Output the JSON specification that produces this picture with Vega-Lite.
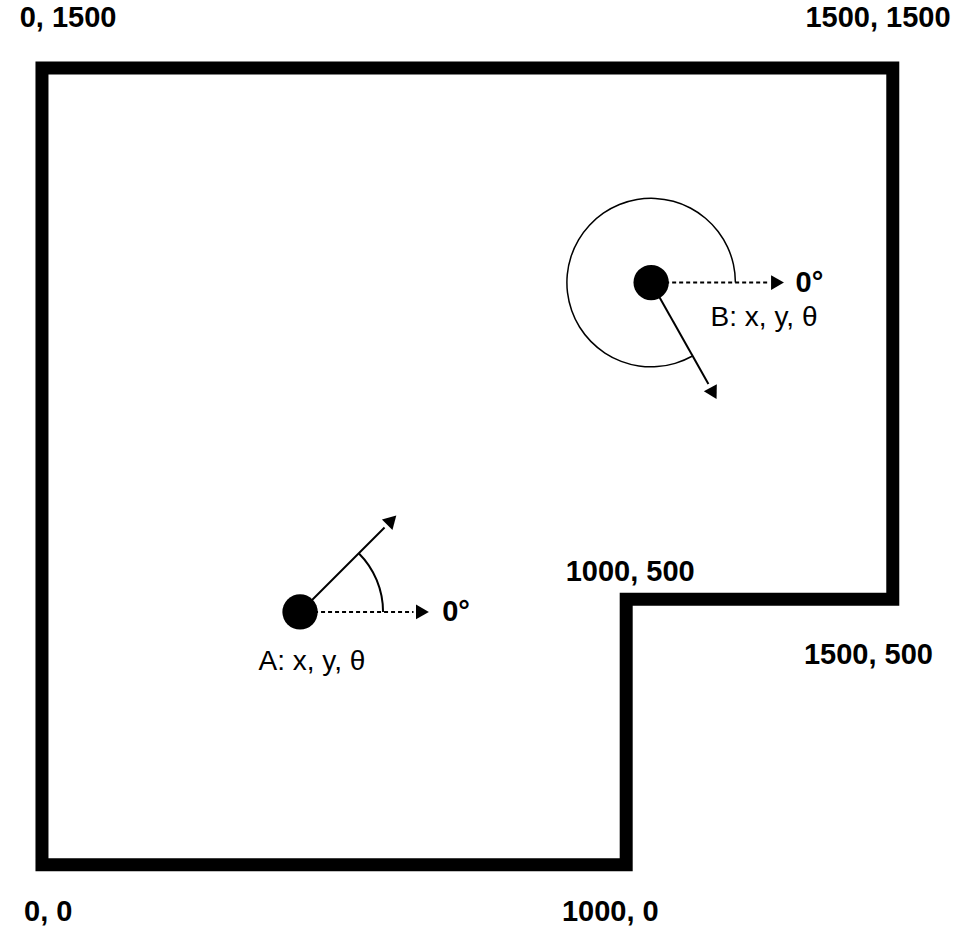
{
  "$schema": "https://vega.github.io/schema/vega-lite/v6.json",
  "width": 979,
  "height": 937,
  "autosize": {"type": "fit", "contains": "padding"},
  "padding": 0,
  "config": {"view": {"stroke": null}},
  "encoding": {
    "x": {"field": "x", "type": "quantitative", "scale": {"domain": [-74, 1652], "nice": false, "zero": false}, "axis": null},
    "y": {"field": "y", "type": "quantitative", "scale": {"domain": [-136, 1628], "nice": false, "zero": false}, "axis": null}
  },
  "layer": [
    {
      "data": {"values": [
        {"o": 0, "x": 0, "y": 0}, {"o": 1, "x": 0, "y": 1500}, {"o": 2, "x": 1500, "y": 1500},
        {"o": 3, "x": 1500, "y": 500}, {"o": 4, "x": 1030, "y": 500}, {"o": 5, "x": 1030, "y": 0},
        {"o": 6, "x": 0, "y": 0}, {"o": 7, "x": 0, "y": 1500}
      ]},
      "mark": {"type": "line", "color": "black", "strokeWidth": 13, "strokeJoin": "miter", "strokeCap": "butt"},
      "encoding": {"order": {"field": "o"}}
    },
    {
      "data": {"values": [
        {"g": "a", "x": 455, "y": 476}, {"g": "a", "x": 655, "y": 476},
        {"g": "b", "x": 1074, "y": 1096}, {"g": "b", "x": 1280, "y": 1096}
      ]},
      "mark": {"type": "line", "color": "black", "strokeWidth": 2, "strokeDash": [4, 3]},
      "encoding": {"detail": {"field": "g"}}
    },
    {
      "data": {"values": [
        {"g": "a", "x": 455, "y": 476}, {"g": "a", "x": 604, "y": 635},
        {"g": "b", "x": 1074, "y": 1096}, {"g": "b", "x": 1175, "y": 905}
      ]},
      "mark": {"type": "line", "color": "black", "strokeWidth": 2},
      "encoding": {"detail": {"field": "g"}}
    },
    {
      "data": {"values": [
        {"x": 667, "y": 476, "a": 90}, {"x": 1293, "y": 1096, "a": 90},
        {"x": 614, "y": 646, "a": 45}, {"x": 1182, "y": 891, "a": 151}
      ]},
      "mark": {"type": "point", "shape": "triangle", "filled": true, "color": "black", "opacity": 1, "size": 220},
      "encoding": {"angle": {"field": "a", "type": "quantitative", "scale": null}}
    },
    {
      "data": {"values": [{"x": 455, "y": 476}, {"x": 1074, "y": 1096}]},
      "mark": {"type": "circle", "color": "black", "opacity": 1, "size": 1250}
    },
    {
      "data": {"values": [{"x": 455, "y": 476}]},
      "mark": {"type": "arc", "color": "black", "theta": 0.785, "theta2": 1.5708, "radius": 84, "radius2": 82}
    },
    {
      "data": {"values": [{"x": 1074, "y": 1096}]},
      "mark": {"type": "arc", "color": "black", "theta": -3.648, "theta2": 1.5708, "radius": 85, "radius2": 83.5}
    },
    {
      "data": {"values": [
        {"x": 46, "y": 1595, "t": "0, 1500"}, {"x": 1474, "y": 1595, "t": "1500, 1500"},
        {"x": 1037, "y": 552, "t": "1000, 500"}, {"x": 1457, "y": 395, "t": "1500, 500"},
        {"x": 11, "y": -89, "t": "0, 0"}, {"x": 1002, "y": -89, "t": "1000, 0"},
        {"x": 730, "y": 476, "t": "0°"}, {"x": 1353, "y": 1096, "t": "0°"}
      ]},
      "mark": {"type": "text", "font": "Liberation Sans", "fontWeight": "bold", "fontSize": 29, "color": "black", "align": "center", "baseline": "middle"},
      "encoding": {"text": {"field": "t"}}
    },
    {
      "data": {"values": [
        {"x": 476, "y": 382, "t": "A: x, y, θ"}, {"x": 1273, "y": 1030, "t": "B: x, y, θ"}
      ]},
      "mark": {"type": "text", "font": "Liberation Sans", "fontSize": 28, "color": "black", "align": "center", "baseline": "middle"},
      "encoding": {"text": {"field": "t"}}
    }
  ]
}
